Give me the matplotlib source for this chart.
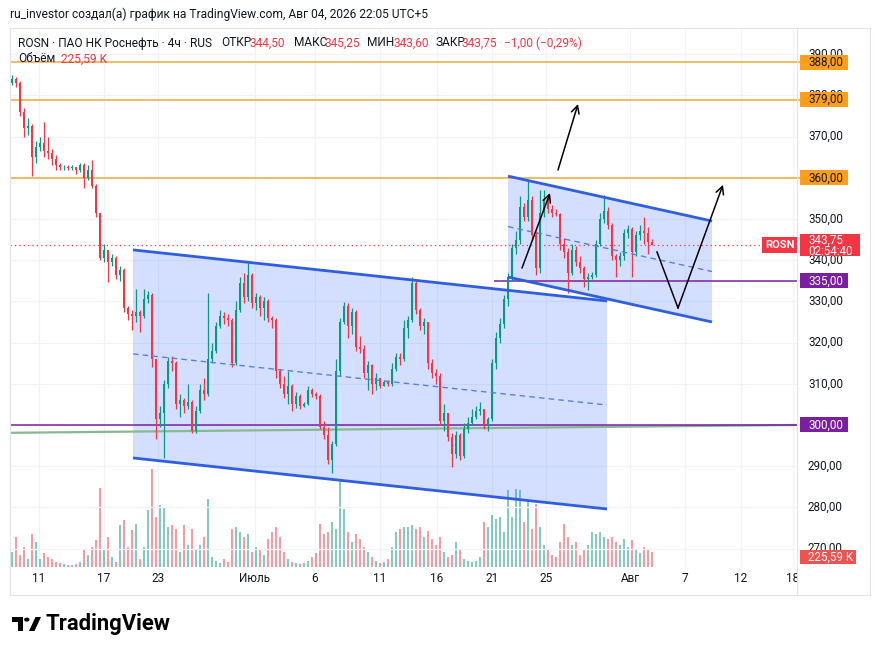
"""ROSN 4h chart with two descending channels, redrawn from a TradingView screenshot."""

import matplotlib

matplotlib.use("Agg")

import matplotlib.pyplot as plt
import numpy as np
from matplotlib.lines import Line2D
from matplotlib.patches import Circle, Polygon, Rectangle

W, H = 875, 654
plt.rcParams["font.family"] = ["Roboto", "DejaVu Sans"]

DARK = "#131722"
UP = "#089981"
DOWN = "#f23645"
GRID = "#f0f3fa"
BORDER = "#e0e3eb"
ORANGE_LINE = "#f0a83a"
ORANGE_TAG = "#ff9e1b"
PURPLE = "#7b1fa2"
GREEN_TREND = "#86b98f"
CHANNEL = "#2f5ee0"
CHANNEL_FILL = "#2962ff"

# --- candles (4h), open of each bar = previous close ---
first_open = 383.0
closes = [
    384, 383, 376, 372, 372.5, 365, 367.5, 368.5, 366.5, 366,
    364.5, 363, 362.5, 362.6, 362.4, 362.5, 361.8, 363, 360, 362,
    358, 351.5, 340.5, 342.5, 339.5, 340.5, 336.5, 337.5, 328.5, 327,
    326.5, 327.5, 326.5, 330.5, 331.5, 316, 301.5, 303, 310, 315.5,
    315, 305, 306, 304.5, 305.5, 298.5, 303.5, 308.5, 307.5, 316,
    318, 324, 326.5, 326, 325.5, 315, 328, 334.5, 331, 336.5,
    329.5, 331, 328.5, 330, 326, 325.5, 313, 310, 307.5, 309.5,
    305, 307, 304.5, 305, 308.5, 307.5, 307, 299.5, 297.5, 291.5,
    295.5, 313, 325, 329, 324, 327.5, 319, 318.5, 312.5, 314.5,
    310, 311.5, 309.5, 310.5, 310, 313.5, 316.5, 316, 323.5, 325.5,
    334.5, 328, 324, 325, 315, 312.5, 312, 301, 303, 297,
    293, 297.5, 292.5, 299, 300.5, 302, 303.5, 304, 300, 301.5,
    315, 321, 324.5, 330.5, 336, 343, 345, 353, 350.5, 354.5,
    346, 338, 351.5, 354.5, 352.5, 351.5, 351.2, 344, 342, 337,
    342.5, 339.5, 338, 335.5, 336, 336.5, 344, 350, 352, 348.5,
    341, 340, 341, 346.5, 347.5, 342, 346, 347, 346.5, 344.5,
    343.75,
]
highs = [
    385, 384.5, 383.5, 377, 374.5, 373, 369, 370, 373.5, 370,
    367, 365.5, 363.5, 363.2, 363, 363, 362.6, 363.5, 363.5, 363,
    364.3, 358.5, 351.5, 344, 342, 341.5, 341, 338.5, 338, 329,
    328, 333, 328, 333, 332.5, 332, 316, 304.5, 311, 316.5,
    316.8, 315.5, 307.5, 306.5, 310, 306, 304.5, 310, 311.5, 332,
    320, 325, 328, 327.5, 327, 326, 330, 336, 337, 339.3,
    337, 332, 331.5, 331, 330.5, 326.5, 326, 313.5, 312, 313,
    310, 308, 307.5, 305.5, 309.5, 309, 308, 307.5, 301, 299.5,
    296, 316, 326, 329.8, 329.5, 328.5, 328, 321.5, 319.5, 315.5,
    314.8, 312.5, 311.5, 311, 310.8, 315, 317.5, 317.5, 325.5, 326.5,
    336, 335, 328.5, 326, 325, 316, 313.5, 312.5, 305, 303,
    298, 298.5, 298, 300.5, 302, 304, 304.5, 305.5, 304, 302,
    316, 322.5, 326, 331.5, 337, 344, 347, 355.5, 354, 359.5,
    355.5, 347, 357, 357, 356, 353.5, 352.5, 351.5, 345.5, 343,
    344, 343.5, 341, 338.5, 337, 337.2, 345, 351.5, 355.8, 353,
    349, 341.5, 342, 347.5, 348.5, 348, 347, 348.5, 350.5, 348,
    345.25,
]
lows = [
    382.5, 382, 375, 370, 370.5, 360.5, 363.5, 366.5, 365, 364.5,
    363, 362, 361.8, 362, 361.9, 362, 361, 361.5, 357.5, 359.5,
    357.5, 350.5, 340, 339.5, 334.7, 338.5, 335.5, 335, 327.5, 325.5,
    323, 325, 322.5, 326, 329.5, 314, 296.5, 299.5, 292, 309,
    313, 304, 302, 303, 304, 298, 298, 303, 306, 307,
    315, 317.5, 323.5, 324.5, 324, 314, 314.5, 327.5, 329.5, 330,
    328.5, 328, 326.5, 325.5, 325, 323.5, 311.5, 309, 306.5, 305,
    303.5, 304.2, 304, 304.3, 304.8, 306.8, 306.3, 299, 296.5, 290.5,
    288.3, 295, 312, 324.5, 321, 322, 318, 317.5, 311.5, 308.5,
    307.5, 308.5, 309, 309.5, 309.4, 309.5, 313, 314.5, 315.5, 321,
    325, 327, 323, 322, 313.5, 311.5, 310, 300, 298.5, 296,
    289.8, 292, 291.5, 292, 298, 300, 301.5, 302.5, 299, 298.5,
    301, 313.5, 320, 323.5, 329, 335, 341.5, 344, 349.5, 349.5,
    345, 336.5, 337, 350.5, 351.5, 350.5, 350.8, 342.5, 340.5, 332,
    336.5, 338.5, 336.8, 333.5, 332.8, 335.5, 336, 343.5, 349, 347.5,
    340, 336, 338.5, 340, 345.5, 336, 341, 345, 344, 341.5,
    343.6,
]
volumes_k = [
    225, 450, 180, 300, 120, 495, 375, 120, 210, 150,
    120, 75, 60, 45, 30, 30, 45, 75, 270, 180,
    300, 405, 1185, 270, 450, 150, 75, 630, 705, 300,
    555, 645, 120, 300, 855, 1470, 750, 930, 900, 600,
    630, 570, 225, 630, 330, 570, 255, 330, 450, 1020,
    150, 90, 60, 120, 75, 570, 600, 525, 450, 495,
    225, 300, 270, 180, 420, 525, 600, 450, 225, 120,
    75, 60, 45, 60, 90, 150, 210, 645, 495, 525,
    675, 570, 1305, 870, 525, 375, 495, 420, 300, 225,
    150, 90, 60, 75, 120, 300, 525, 570, 600, 600,
    630, 570, 600, 450, 540, 420, 330, 450, 225, 150,
    180, 375, 270, 120, 90, 75, 90, 150, 675, 600,
    780, 720, 750, 525, 1155, 750, 1170, 1155, 675, 975,
    570, 945, 600, 330, 270, 180, 150, 375, 645, 450,
    330, 375, 180, 270, 330, 525, 495, 525, 450, 420,
    450, 375, 330, 420, 300, 405, 270, 210, 300, 270,
    225.59,
]

# --- drawings (bar index, price) ---
big_channel_x = [30.25, 148.75]
big_channel_upper = [342.5, 330.1]
big_channel_lower = [292.0, 279.6]
small_channel_x = [124.0, 175.0]
small_channel_upper = [360.4, 349.5]
small_channel_lower = [335.9, 325.0]
trend_x = [-0.5, 196.25]
trend_y = [298.1, 300.0]
arrow_long = [(136.5, 361.9), (141.5, 377.9)]
arrow_short = [(127.5, 338.1), (134.5, 356.3)]
arrow_forecast = [(161.25, 342.0), (166.5, 328.4), (177.75, 358.3)]
orange_levels = [388.0, 379.0, 360.0]
purple_level = 300.0
support_level = 335.0
support_start = 120.5
last_price = 343.75
last_volume = "225,59 K"

price_ticks = list(range(270, 400, 10))
date_positions = [6.75, 23, 36.5, 60.75, 75.75, 92, 106.25, 120, 133.5,
                  154.5, 168.25, 182.25, 195.25]
date_labels = ["11", "17", "23", "Июль", "6", "11", "16", "21", "25",
               "Авг", "7", "12", "18"]

X_RANGE = (-0.5, 196.25)
Y_RANGE = (265.53, 395.87)


def px_box(x0, y0, x1, y1):
    """Axes rectangle from screenshot pixel corners."""
    return [x0 / W, 1 - y1 / H, (x1 - x0) / W, (y1 - y0) / H]


def px(x, y):
    return x / W, 1 - y / H


def fig_line(x0, y0, x1, y1, color=BORDER, lw=0.8):
    fig.add_artist(Line2D([x0 / W, x1 / W], [1 - y0 / H, 1 - y1 / H],
                          transform=fig.transFigure, color=color, lw=lw))


def fit_text(x, y, s, width, **kw):
    """Place text at pixel position and scale it to the given pixel width."""
    t = fig.text(*px(x, y), s, fontsize=10, va="center", **kw)
    bb = t.get_window_extent(renderer)
    t.set_fontsize(10 * width / bb.width)
    return t


fig = plt.figure(figsize=(W / 100, H / 100), dpi=100)
fig.patch.set_facecolor("white")
renderer = fig.canvas.get_renderer()

ax_vol = fig.add_axes(px_box(10, 30, 797, 567))
ax = fig.add_axes(px_box(10, 30, 797, 567), sharex=ax_vol)
ax_scale = fig.add_axes(px_box(797, 30, 870, 567), sharey=ax)
ax_time = fig.add_axes(px_box(10, 567, 797, 595), sharex=ax_vol)
for a in (ax_vol, ax, ax_scale, ax_time):
    a.set_axis_off()

ax.set_xlim(*X_RANGE)
ax.set_ylim(*Y_RANGE)
ax_vol.set_ylim(0, 537 * 15)
ax_scale.set_xlim(797, 870)
ax_time.set_ylim(0, 1)

# grid
for p in price_ticks:
    ax.axhline(p, color=GRID, lw=0.9, zorder=0)
for d in date_positions:
    ax_vol.axvline(d, color=GRID, lw=0.9, zorder=0)

# candles and volume
closes_a = np.array(closes)
opens_a = np.concatenate([[first_open], closes_a[:-1]])
idx = np.arange(len(closes_a))
rising = closes_a >= opens_a
colors = np.where(rising, UP, DOWN)

ax_vol.bar(idx, volumes_k, width=0.28, color=colors, alpha=0.5, zorder=1)


def draw_channel(xs, upper, lower):
    ax.add_patch(Polygon([(xs[0], upper[0]), (xs[1], upper[1]),
                          (xs[1], lower[1]), (xs[0], lower[0])],
                         closed=True, facecolor=CHANNEL_FILL, alpha=0.2,
                         edgecolor="none", zorder=1))
    mid = [(u + l) / 2 for u, l in zip(upper, lower)]
    ax.plot(xs, mid, color="#5b7fdc", lw=1.0, ls=(0, (4, 3)), zorder=4)
    ax.plot(xs, upper, color=CHANNEL, lw=2.0, zorder=5, solid_capstyle="butt")
    ax.plot(xs, lower, color=CHANNEL, lw=2.0, zorder=5, solid_capstyle="butt")


draw_channel(big_channel_x, big_channel_upper, big_channel_lower)
draw_channel(small_channel_x, small_channel_upper, small_channel_lower)

# horizontal levels
for lvl in orange_levels:
    ax.axhline(lvl, color=ORANGE_LINE, lw=1.1, zorder=2)
    ax_scale.plot([797, 800], [lvl, lvl], color=ORANGE_LINE, lw=1.1)
ax.plot(trend_x, trend_y, color=GREEN_TREND, lw=1.6, zorder=2)
ax.axhline(purple_level, color=PURPLE, lw=1.1, zorder=2)
ax.hlines(support_level, support_start, X_RANGE[1], color=PURPLE, lw=1.1, zorder=2)
ax.hlines(last_price, X_RANGE[0], 187.5, color=DOWN, lw=0.9,
          linestyles=(0, (1, 2.5)), zorder=2)

ax.vlines(idx, lows, highs, colors=colors, lw=0.9, zorder=3)
body_low = np.minimum(opens_a, closes_a)
body_h = np.maximum(np.abs(closes_a - opens_a), 0.15)
ax.bar(idx, body_h, bottom=body_low, width=0.62, color=colors, zorder=3)

# arrows
arrow_style = dict(arrowstyle="->,head_length=0.55,head_width=0.28",
                   color="black", lw=1.1, shrinkA=0, shrinkB=0)
for path in (arrow_long, arrow_short, arrow_forecast):
    xs, ys = zip(*path)
    if len(path) > 2:
        ax.plot(xs[:-1], ys[:-1], color="black", lw=1.1, zorder=6)
    ax.annotate("", xy=path[-1], xytext=path[-2], arrowprops=arrow_style, zorder=6)

# price scale
SCALE_FS = 8.4
for p in price_ticks:
    ax_scale.text(808, p, f"{p:.2f}".replace(".", ","), fontsize=SCALE_FS,
                  color=DARK, va="center", ha="left", zorder=1)


def scale_tag(price, label, face, text_color, x1=848, half=1.82):
    ax_scale.add_patch(Rectangle((800, price - half), x1 - 800, 2 * half,
                                 facecolor=face, edgecolor="none", zorder=3,
                                 clip_on=False))
    ax_scale.text(808, price, label, fontsize=SCALE_FS, color=text_color,
                  va="center", ha="left", zorder=4, clip_on=False)


for lvl in orange_levels:
    scale_tag(lvl, f"{lvl:.2f}".replace(".", ","), ORANGE_TAG, DARK)
scale_tag(support_level, f"{support_level:.2f}".replace(".", ","), PURPLE, "white")
scale_tag(purple_level, f"{purple_level:.2f}".replace(".", ","), PURPLE, "white")
scale_tag(268.0, last_volume, "#ef5350", "white", x1=856, half=1.7)

# last price tag (two lines) and symbol tag
ax_scale.add_patch(Rectangle((800, last_price - 2.7), 60, 5.4, facecolor=DOWN,
                             edgecolor="none", zorder=3, clip_on=False))
ax_scale.text(808, last_price + 1.15, f"{last_price:.2f}".replace(".", ","),
              fontsize=SCALE_FS, color="white", va="center", zorder=4)
ax_scale.text(808, last_price - 1.75, "02:54:40", fontsize=SCALE_FS,
              color="white", va="center", zorder=4)
ax_scale.add_patch(Rectangle((762, last_price - 1.95), 35, 3.9, facecolor=DOWN,
                             edgecolor="none", zorder=3, clip_on=False))
ax_scale.text(779.5, last_price, "ROSN", fontsize=8, color="white",
              fontweight="bold", va="center", ha="center", zorder=4, clip_on=False)

# time scale
for pos, lab in zip(date_positions, date_labels):
    ax_time.text(pos, 0.6, lab, fontsize=8.5, color=DARK, ha="center",
                 va="center", clip_on=True)

# frame
fig_line(10, 28, 870, 28)
fig_line(10, 595, 870, 595)
fig_line(10, 28, 10, 595)
fig_line(870, 28, 870, 595)
fig_line(797, 28, 797, 595)

# header texts
fit_text(10, 14, "ru_investor создал(а) график на TradingView.com, Авг 04, 2026 22:05 UTC+5",
         419, color=DARK)
head = fit_text(18, 43, "ROSN · ПАО НК Роснефть · 4ч · RUS", 194, color=DARK)
hfs = head.get_fontsize()
for s, x, c in [("ОТКР", 221, DARK), ("344,50", 250, DOWN), ("МАКС", 294, DARK),
                ("345,25", 324.5, DOWN), ("МИН", 367, DARK), ("343,60", 393.5, DOWN),
                ("ЗАКР", 436, DARK), ("343,75", 462, DOWN),
                ("−1,00 (−0,29%)", 504, DOWN)]:
    fig.text(*px(x, 43), s, fontsize=hfs, color=c, va="center")
fig.text(*px(18, 59), "Объём", fontsize=hfs, color=DARK, va="center")
fig.text(*px(61, 59), last_volume, fontsize=hfs, color=DOWN, va="center")

# TradingView logo
logo_t = [(12, 617), (23, 617), (23, 631), (17.5, 631), (17.5, 622), (12, 622)]
fig.add_artist(Polygon([px(x, y) for x, y in logo_t], closed=True,
                       facecolor="black", transform=fig.transFigure))
fig.add_artist(Circle(px(26.8, 619.6), 2.7 / W, facecolor="black",
                      transform=fig.transFigure))
logo_s = [(29, 631), (35.5, 617), (41, 617), (34.5, 631)]
fig.add_artist(Polygon([px(x, y) for x, y in logo_s], closed=True,
                       facecolor="black", transform=fig.transFigure))
fit_text(45, 624, "TradingView", 125, color="black", fontweight="bold")

fig.savefig("out.png", dpi=100, facecolor="white")
